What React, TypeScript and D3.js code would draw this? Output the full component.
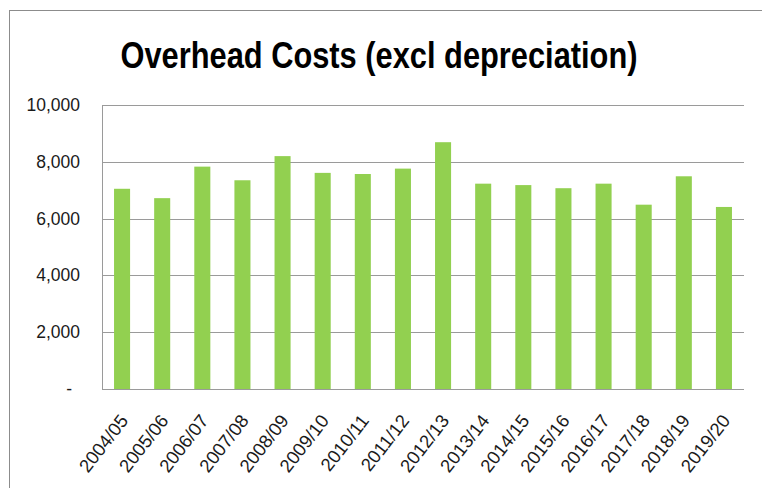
import React, { useEffect, useRef } from 'react';
import * as d3 from 'd3';

const years = [
  '2004/05', '2005/06', '2006/07', '2007/08', '2008/09', '2009/10', '2010/11', '2011/12',
  '2012/13', '2013/14', '2014/15', '2015/16', '2016/17', '2017/18', '2018/19', '2019/20',
];
const costs = [7050, 6720, 7830, 7350, 8200, 7610, 7570, 7760, 8690, 7230, 7180, 7070, 7230, 6490, 7490, 6410];
const yTicks = [0, 2000, 4000, 6000, 8000, 10000];

const App: React.FC = () => {
  const svgRef = useRef<SVGSVGElement>(null);

  useEffect(() => {
    if (!svgRef.current) return;
    const width = 762;
    const height = 488;
    const margin = { top: 105, right: 18, bottom: 99, left: 102 };
    const font = '"Liberation Sans", Arial, sans-serif';

    const svg = d3.select(svgRef.current);
    svg.selectAll('*').remove();

    svg.append('rect')
      .attr('width', width).attr('height', height).attr('fill', '#fff');

    // outer chart border
    svg.append('rect')
      .attr('x', 9.5).attr('y', 10.5)
      .attr('width', 800).attr('height', 600)
      .attr('fill', 'none').attr('stroke', '#8c8c8c').attr('stroke-width', 1);

    svg.append('text')
      .attr('x', 379).attr('y', 68)
      .attr('text-anchor', 'middle')
      .attr('textLength', 517)
      .attr('lengthAdjust', 'spacingAndGlyphs')
      .style('font-family', font)
      .style('font-weight', 'bold')
      .style('font-size', '36px')
      .text('Overhead Costs (excl depreciation)');

    const x = d3.scaleBand<string>()
      .domain(years)
      .range([margin.left, width - margin.right])
      .paddingInner(0.6)
      .paddingOuter(0.3);

    const y = d3.scaleLinear()
      .domain([0, 10000])
      .range([height - margin.bottom, margin.top]);

    // gridlines
    svg.append('g')
      .selectAll('line')
      .data(yTicks)
      .enter().append('line')
      .attr('x1', margin.left).attr('x2', width - margin.right)
      .attr('y1', d => Math.round(y(d)) + 0.5).attr('y2', d => Math.round(y(d)) + 0.5)
      .attr('stroke', '#9a9a9a').attr('stroke-width', 1);

    svg.append('line')
      .attr('x1', margin.left + 0.5).attr('x2', margin.left + 0.5)
      .attr('y1', margin.top).attr('y2', height - margin.bottom)
      .attr('stroke', '#9a9a9a');

    svg.append('g')
      .selectAll('text')
      .data(yTicks)
      .enter().append('text')
      .attr('x', d => (d === 0 ? 72 : 80))
      .attr('y', d => y(d) + 6)
      .attr('text-anchor', 'end')
      .style('font-family', font)
      .style('font-size', '17.5px')
      .attr('fill', '#1a1a1a')
      .text(d => (d === 0 ? '-' : d3.format(',')(d)));

    // bars
    svg.append('g')
      .selectAll('rect')
      .data(costs)
      .enter().append('rect')
      .attr('x', (_, i) => x(years[i])!)
      .attr('width', x.bandwidth())
      .attr('y', d => y(d))
      .attr('height', d => y(0) - y(d))
      .attr('fill', '#92d050');

    // x labels
    svg.append('g')
      .selectAll('text')
      .data(years)
      .enter().append('text')
      .attr('transform', d => `translate(${x(d)! + x.bandwidth() / 2 + 2},${height - margin.bottom + 28}) rotate(-52)`)
      .attr('text-anchor', 'end')
      .attr('dy', '0.35em')
      .style('font-family', font)
      .style('font-size', '18.5px')
      .attr('fill', '#1a1a1a')
      .text(d => d);
  }, []);

  return (
    <svg ref={svgRef} width={762} height={488}
      style={{ position: 'absolute', left: 0, top: 0, display: 'block' }} />
  );
};

export default App;
